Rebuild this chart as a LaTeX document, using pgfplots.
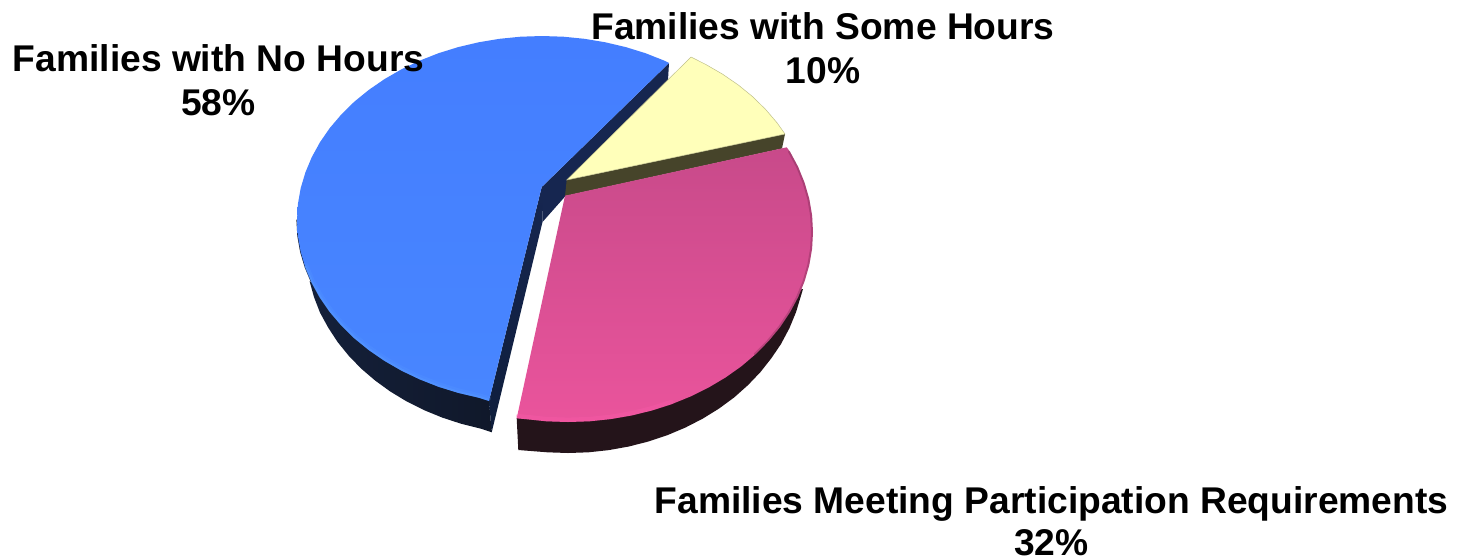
\documentclass[border=0pt]{standalone}
\usepackage{fontspec}
\setmainfont{Liberation Sans}
\usepackage{pgfplots}
\pgfplotsset{compat=1.18}
\definecolor{bluetop}{RGB}{68,126,255}
\definecolor{bluebot}{RGB}{72,134,255}
\definecolor{bluerim}{RGB}{92,160,255}
\definecolor{bluewallL}{RGB}{20,32,58}
\definecolor{bluewallR}{RGB}{16,24,42}
\definecolor{blueinner}{RGB}{15,30,60}
\definecolor{blueback}{RGB}{22,38,80}
\definecolor{yellowtop}{RGB}{255,255,186}
\definecolor{yellowwall}{RGB}{70,68,42}
\definecolor{pinktop}{RGB}{200,74,138}
\definecolor{pinkmid}{RGB}{213,79,146}
\definecolor{pinkbot}{RGB}{234,84,156}
\definecolor{pinkrim}{RGB}{255,92,172}
\definecolor{pinkwall}{RGB}{36,20,26}
\begin{document}
\begin{tikzpicture}
\useasboundingbox (0,0) rectangle (733pt,279.5pt);
\begin{axis}[
  at={(0,0)}, anchor=south west,
  scale only axis, width=733pt, height=279.5pt,
  xmin=0, xmax=1466, ymin=0, ymax=559, y dir=reverse,
  hide axis, clip=false, no markers,
  every axis plot/.append style={line join=round, line cap=round},
]
% Families with No Hours: outer wall
\addplot[draw=none, left color=bluewallL, right color=bluewallR] coordinates {
 (311,282) (309.6,281.3) (314,297.1) (320,312.6) (328.2,327.6) (337.6,342) (348.7,355.7) (361.2,368.6) (375.1,380.5) (390.3,391.5) (406.6,401.4) (424,410.1) (442.3,417.6) (461.3,423.8) (480.9,428.7) (491.7,432.3) (489,401) (440,300) (360,260)
} -- cycle;
% inner walls
\addplot[draw=none, fill=blueback] coordinates {
 (669,63) (668,80) (542.5,222) (541.7,187)
} -- cycle;
\addplot[draw=none, top color=blueback, bottom color=blueinner] coordinates {
 (541.7,187) (489,401) (491.7,432.3) (542.5,222)
} -- cycle;
% thin dark edge on the left of the blue face
\addplot[draw=bluewallL, line width=0.6pt] coordinates {
 (297,220) (297.9,236) (300.7,251.9) (305.4,267.6) (311.8,282.9)
};
% top face
\addplot[draw=none, top color=bluetop, bottom color=bluebot] coordinates {
 (669,63) (664.5,60.7) (645.5,53.2) (625.8,47.1) (605.4,42.3) (584.5,38.8) (563.4,36.7) (542,36)
 (520.6,36.7) (499.5,38.8) (478.6,42.3) (458.2,47.1) (438.5,53.2) (419.5,60.7) (401.5,69.3)
 (384.5,79.1) (368.8,89.9) (354.3,101.7) (341.3,114.5) (329.8,128) (320,142.2) (311.8,157.1)
 (305.4,172.4) (300.7,188.1) (297.9,204) (297,220) (297.9,236) (300.7,251.9) (305.4,267.6)
 (311.8,282.9) (320,297.8) (329.8,312) (341.3,325.5) (354.3,338.3) (368.8,350.1) (384.5,360.9)
 (401.5,370.7) (419.5,379.3) (438.5,386.8) (458.2,392.9) (478.6,397.7) (489,401) (541.7,187)
} -- cycle;
% lighter rim along the lower edge of the blue face
\addplot[draw=bluerim, line width=2.2pt, opacity=0.18, yshift=1.1pt, xshift=0.4pt] coordinates {
 (305.4,267.6) (311.8,282.9) (320,297.8) (329.8,312) (341.3,325.5) (354.3,338.3)
 (368.8,350.1) (384.5,360.9) (401.5,370.7) (419.5,379.3) (438.5,386.8) (458.2,392.9) (478.6,397.7) (488,400.7)
};
\addplot[draw=bluerim, line width=1pt, opacity=0.35, yshift=0.5pt, xshift=0.2pt] coordinates {
 (305.4,267.6) (311.8,282.9) (320,297.8) (329.8,312) (341.3,325.5) (354.3,338.3)
 (368.8,350.1) (384.5,360.9) (401.5,370.7) (419.5,379.3) (438.5,386.8) (458.2,392.9) (478.6,397.7) (488,400.7)
};
% Families with Some Hours
\addplot[draw=none, fill=yellowwall] coordinates {
 (785,134) (782,148.5) (565,196) (566.7,180)
} -- cycle;
\addplot[draw=yellowtop!75!black, line width=0.25pt, fill=yellowtop] coordinates {
 (566.7,180) (691,57) (705.5,64.3) (722.5,74.1) (738.2,84.9) (752.7,96.7) (765.7,109.5) (777.2,123) (785,134)
} -- cycle;
% Families Meeting Participation Requirements: outer wall
\addplot[draw=none, fill=pinkwall] coordinates {
 (803,289) (796,312.2) (789.5,328) (781,344) (771.5,358) (760.5,372) (748,385.1) (734.2,397.4)
 (719.1,408.5) (702.8,418.6) (685.5,427.5) (667.3,435.2) (648.4,441.5) (628.8,446.5) (608.8,450.1)
 (588.5,452.3) (568,453) (547.5,452.3) (518.3,450) (516.7,418.3) (600,380) (750,300)
} -- cycle;
% top face
\addplot[draw=none, top color=pinktop, middle color=pinkmid, bottom color=pinkbot] coordinates {
 (565,195.7) (786.7,147.3) (790,151.7) (798.2,167) (804.6,182.8) (809.3,199) (812.1,215.4) (813,232)
 (812.1,248.6) (809.3,265) (804.6,281.2) (798.2,297) (790,312.3) (780.2,327) (768.7,341) (755.7,354.1)
 (741.2,366.4) (725.5,377.5) (708.5,387.6) (690.5,396.5) (671.5,404.2) (651.8,410.5) (631.4,415.5)
 (610.5,419.1) (589.4,421.3) (568,422) (546.6,421.3) (525.5,419.1) (516.7,418.3)
} -- cycle;
% rim shading of the pink face
\addplot[draw=black, line width=1pt, opacity=0.16, xshift=-0.5pt] coordinates {
 (790,151.7) (798.2,167) (804.6,182.8) (809.3,199) (812.1,215.4) (813,232)
 (812.1,248.6) (809.3,265) (804.6,281.2) (798.2,297) (790,312.3) (780.2,327) (768.7,341) (755.7,354.1)
};
\addplot[draw=pinkrim, line width=2.2pt, opacity=0.3, yshift=1.1pt] coordinates {
 (671.5,404.2) (651.8,410.5) (631.4,415.5)
 (610.5,419.1) (589.4,421.3) (568,422) (546.6,421.3) (525.5,419.1) (518,418.4)
};
% category labels
\begin{scope}[every node/.style={anchor=base, font=\fontsize{18.6pt}{20pt}\selectfont\bfseries, inner sep=0pt, text=black}]
\node at (axis cs:218.5,71.5) {Families with No Hours};
\node at (axis cs:218.5,115) {58\%};
\node at (axis cs:823,39) {Families with Some Hours};
\node at (axis cs:823,83) {10\%};
\node at (axis cs:1051.5,513) {Families Meeting Participation Requirements};
\node at (axis cs:1051.5,555.5) {32\%};
\end{scope}
\end{axis}
\end{tikzpicture}
\end{document}
